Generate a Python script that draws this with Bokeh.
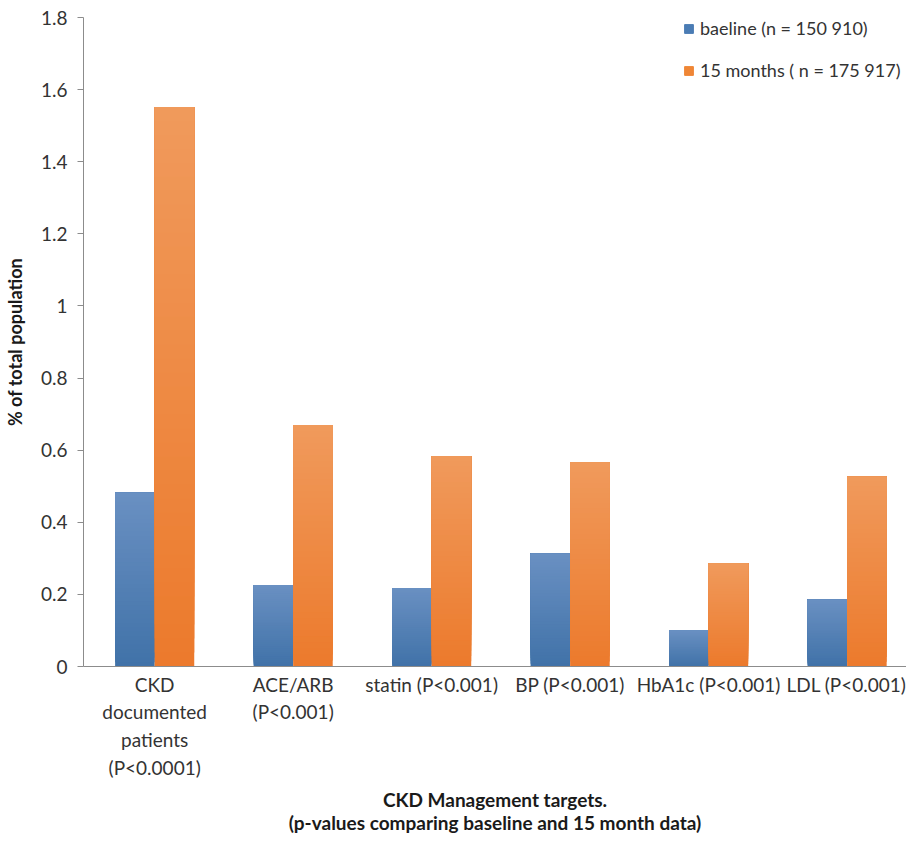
import numpy as np
from bokeh.plotting import figure
from bokeh.models import (Range1d, FixedTicker, ColumnDataSource, Legend, LegendItem)
from bokeh.embed import file_html
from bokeh.resources import INLINE

categories = ["CKD\ndocumented\npatients\n(P<0.0001)", "ACE/ARB\n(P<0.001)", "statin (P<0.001)",
              "BP (P<0.001)", "HbA1c (P<0.001)", "LDL (P<0.001)"]
baseline = [0.482, 0.226, 0.218, 0.313, 0.100, 0.185]
months15 = [1.552, 0.670, 0.583, 0.566, 0.286, 0.526]
y_ticks = [0, 0.2, 0.4, 0.6, 0.8, 1.0, 1.2, 1.4, 1.6, 1.8]
series_names = ["baeline (n = 150 910)", "15 months ( n = 175 917)"]

FONT = "Lato"
p = figure(width=906, height=836, output_backend="svg", toolbar_location=None,
           x_range=Range1d(-0.014, 5.929), y_range=Range1d(0, 1.8),
           min_border_left=74, min_border_right=0, min_border_top=17, min_border_bottom=0)
p.outline_line_color = None
p.grid.grid_line_color = None
p.background_fill_color = "white"
p.border_fill_color = "white"

xs = np.arange(len(categories)) + 0.5
bw = 0.2857
N = 40

def hexmix(c1, c2, t):
    a = [int(c1[i:i+2], 16) for i in (1, 3, 5)]
    b = [int(c2[i:i+2], 16) for i in (1, 3, 5)]
    return "#%02x%02x%02x" % tuple(int(round(a[k] + (b[k] - a[k]) * t)) for k in range(3))

def grad_bars(vals, offset, c_bottom, c_top):
    # each slice spans from its lower edge to the bar's top; later (upper) slices
    # paint over earlier ones, giving a seamless vertical gradient
    L, R, B, T, C = [], [], [], [], []
    for i in range(N):
        for x, v in zip(xs, vals):
            L.append(x + offset - bw / 2)
            R.append(x + offset + bw / 2)
            B.append(v * i / N)
            T.append(v)
            C.append(hexmix(c_bottom, c_top, (i + 0.5) / N))
    src = ColumnDataSource(dict(left=L, right=R, bottom=B, top=T, color=C))
    p.quad(left="left", right="right", bottom="bottom", top="top", source=src,
           fill_color="color", line_color=None)

grad_bars(baseline, -bw / 2, "#4072a8", "#6a90c2")
grad_bars(months15, bw / 2, "#ec7a2c", "#f09a5c")

r1 = p.quad(left=[-10], right=[-9], bottom=[-10], top=[-9], fill_color="#4a7cb4", line_color="#4a7cb4")
r2 = p.quad(left=[-10], right=[-9], bottom=[-10], top=[-9], fill_color="#ef8636", line_color="#ef8636")
legend = Legend(items=[LegendItem(label=series_names[0], renderers=[r1]),
                       LegendItem(label=series_names[1], renderers=[r2])],
                location=(600, 585), border_line_color=None, background_fill_alpha=0,
                label_text_font=FONT, label_text_font_size="18px", label_text_color="#333333",
                glyph_width=11, glyph_height=11, label_height=20, spacing=20, label_standoff=6,
                margin=0, padding=0)
p.add_layout(legend)

# axes
p.xaxis.ticker = FixedTicker(ticks=list(xs))
p.xaxis.major_label_overrides = {float(x): c for x, c in zip(xs, categories)}
p.xaxis.major_tick_line_color = None
p.xaxis.minor_tick_line_color = None
p.xaxis.axis_line_color = "#8c8c8c"
p.xaxis.major_label_text_font = FONT
p.xaxis.major_label_text_font_size = "19px"
p.xaxis.major_label_text_color = "#333333"
p.xaxis.major_label_text_line_height = 1.21
p.xaxis.major_label_standoff = 0
p.xaxis.axis_label = "CKD Management targets.\n(p-values comparing baseline and 15 month data)"
p.xaxis.axis_label_text_font = FONT
p.xaxis.axis_label_text_font_size = "19px"
p.xaxis.axis_label_text_font_style = "bold"
p.xaxis.axis_label_text_color = "#1a1a1a"
p.xaxis.axis_label_text_line_height = 1.0
p.xaxis.axis_label_standoff = 6

p.yaxis.ticker = FixedTicker(ticks=y_ticks)
p.yaxis.major_label_overrides = {0: "0", 1.0: "1"}
p.yaxis.minor_tick_line_color = None
p.yaxis.major_tick_out = 6
p.yaxis.major_tick_in = 0
p.yaxis.major_tick_line_color = "#8c8c8c"
p.yaxis.axis_line_color = "#8c8c8c"
p.yaxis.major_label_text_font = FONT
p.yaxis.major_label_text_font_size = "19px"
p.yaxis.major_label_text_color = "#333333"
p.yaxis.major_label_standoff = 10
p.yaxis.axis_label = "% of total population"
p.yaxis.axis_label_text_font = FONT
p.yaxis.axis_label_text_font_size = "18px"
p.yaxis.axis_label_text_font_style = "bold"
p.yaxis.axis_label_text_color = "#1a1a1a"
p.yaxis.axis_label_standoff = 12

open("out.html", "w").write(file_html(p, INLINE))
